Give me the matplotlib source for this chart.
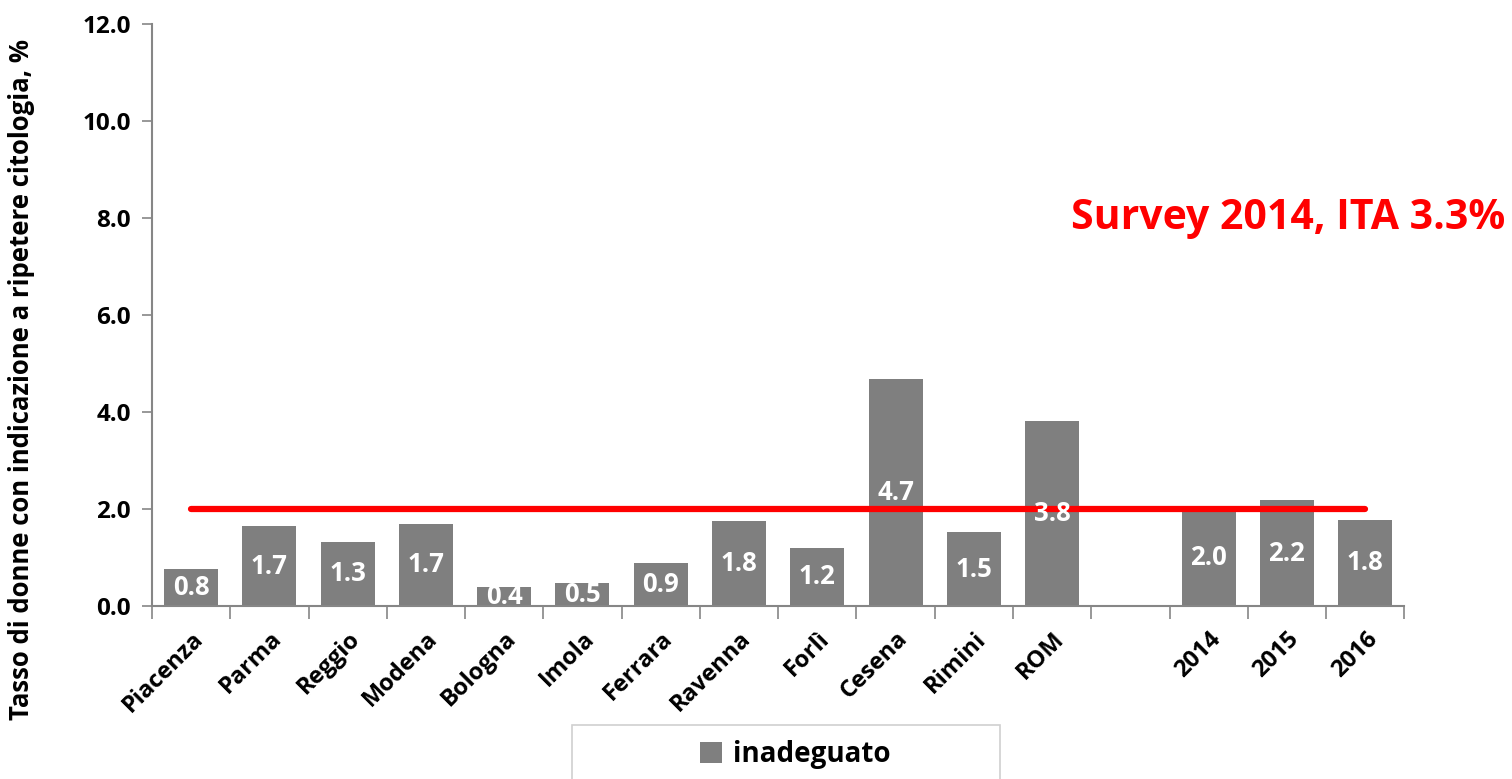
import numpy as np
import matplotlib
matplotlib.use('Agg')
import matplotlib.pyplot as plt
from matplotlib.patches import Rectangle

plt.rcParams['font.family'] = ['Open Sans', 'DejaVu Sans']
plt.rcParams['font.weight'] = 'bold'

categories = ['Piacenza', 'Parma', 'Reggio', 'Modena', 'Bologna', 'Imola', 'Ferrara',
              'Ravenna', 'Forlì', 'Cesena', 'Rimini', 'ROM', '', '2014', '2015', '2016']
inadeguato = [0.76, 1.65, 1.33, 1.70, 0.40, 0.47, 0.88, 1.75, 1.20, 4.68, 1.52, 3.82,
              np.nan, 2.00, 2.18, 1.78]
labels = ['0.8', '1.7', '1.3', '1.7', '0.4', '0.5', '0.9', '1.8', '1.2', '4.7', '1.5', '3.8',
          '', '2.0', '2.2', '1.8']
ref_value = 2.0
ref_text = 'Survey 2014, ITA 3.3%'

bar_color = '#7f7f7f'
axis_color = '#868686'

fig = plt.figure(figsize=(15.12, 7.79), dpi=100)
ax = fig.add_axes([0.1005, 0.222, 0.8283, 0.747])

x = np.arange(len(categories))
vals = np.array(inadeguato, dtype=float)
ax.bar(x, np.nan_to_num(vals), width=0.69, color=bar_color, label='inadeguato', zorder=2)

for xi, v, lab in zip(x, vals, labels):
    if np.isnan(v):
        continue
    ax.text(xi, v / 2, lab, ha='center', va='center', color='white',
            fontsize=18.5, fontweight='bold', zorder=4)

# reference line
ax.plot([x[0], x[-1]], [ref_value, ref_value], color='#ff0000', lw=4.5,
        solid_capstyle='round', zorder=3)

fig.text(0.9955, 0.72, ref_text, color='#ff0000',
         fontsize=29.5, fontweight='bold', ha='right', va='center')

ax.set_xlim(-0.5, len(categories) - 0.5)
ax.set_ylim(0, 12)
ax.set_yticks(np.arange(0, 12.1, 2))
ax.set_yticklabels([f'{t:.1f}' for t in np.arange(0, 12.1, 2)], fontsize=17.5, fontweight='bold')
ax.tick_params(axis='y', length=7, width=1.2, color=axis_color, pad=8)

ax.set_xticks(x)
ax.set_xticklabels(categories, rotation=45, ha='right', rotation_mode='anchor',
                   fontsize=17, fontweight='bold')
ax.set_xticks(np.arange(-0.5, len(categories), 1), minor=True)
ax.tick_params(axis='x', which='major', length=0, pad=15)
ax.tick_params(axis='x', which='minor', length=9, width=1.2, color=axis_color)

for s in ['top', 'right']:
    ax.spines[s].set_visible(False)
for s in ['left', 'bottom']:
    ax.spines[s].set_color(axis_color)
    ax.spines[s].set_linewidth(1.5)

ax.set_ylabel('Tasso di donne con indicazione a ripetere citologia, %', fontsize=18.5,
              fontweight='bold')
ax.yaxis.set_label_coords(-0.093, 0.39)

# legend box (partly cut at the bottom, as in the original)
fig.patches.append(Rectangle((572 / 1512, -0.05), 428 / 1512, 0.05 + 54 / 779,
                             transform=fig.transFigure, fill=False,
                             edgecolor='#d0d0d0', linewidth=1.2))
leg = fig.legend(loc='center', bbox_to_anchor=(0.526, 0.031), frameon=False,
                 handlelength=0.8, handleheight=0.8, handletextpad=0.4,
                 prop={'weight': 'bold', 'size': 20})

fig.savefig('out.png', dpi=100)
